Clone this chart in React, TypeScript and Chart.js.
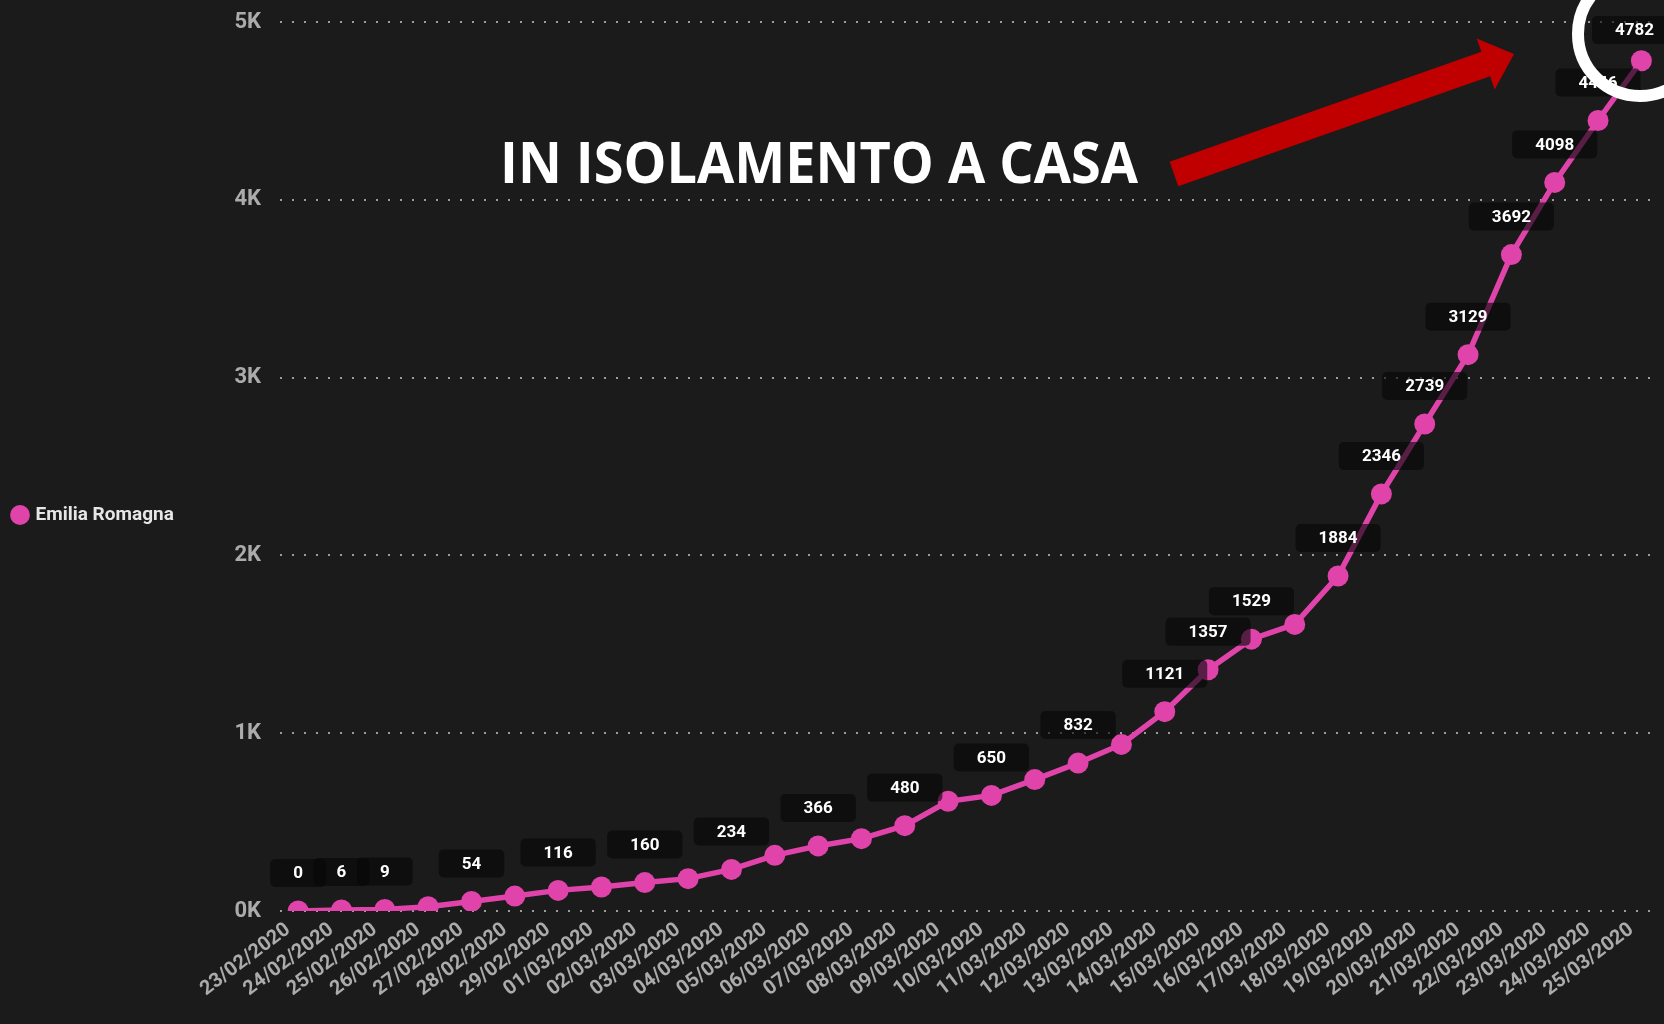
import React, { useEffect, useRef } from 'react';
import { Chart, registerables } from 'chart.js';

Chart.register(...registerables);

const dateLabels = [
  '23/02/2020', '24/02/2020', '25/02/2020', '26/02/2020', '27/02/2020', '28/02/2020', '29/02/2020',
  '01/03/2020', '02/03/2020', '03/03/2020', '04/03/2020', '05/03/2020', '06/03/2020', '07/03/2020',
  '08/03/2020', '09/03/2020', '10/03/2020', '11/03/2020', '12/03/2020', '13/03/2020', '14/03/2020',
  '15/03/2020', '16/03/2020', '17/03/2020', '18/03/2020', '19/03/2020', '20/03/2020', '21/03/2020',
  '22/03/2020', '23/03/2020', '24/03/2020', '25/03/2020',
];

const seriesName = 'Emilia Romagna';

const isolationValues = [
  0, 6, 9, 24, 54, 84, 116, 135, 160, 182, 234, 313, 366, 407, 480, 617,
  650, 739, 832, 937, 1121, 1357, 1529, 1612, 1884, 2346, 2739, 3129, 3692, 4098, 4446, 4782,
];

const labeledPoints = [0, 1, 2, 4, 6, 8, 10, 12, 14, 16, 18, 20, 21, 22, 24, 25, 26, 27, 28, 29, 30, 31];

const yTickValues = [0, 1000, 2000, 3000, 4000, 5000];

const annotationText = 'IN ISOLAMENTO A CASA';

const PINK = '#E044AA';
const BG = '#1b1b1b';
const FONT = 'Roboto, "Noto Sans", sans-serif';

export default function App() {
  const canvasRef = useRef<HTMLCanvasElement | null>(null);

  useEffect(() => {
    document.body.style.margin = '0';
    document.body.style.background = BG;
    const canvas = canvasRef.current;
    if (!canvas) return;

    const bgPlugin = {
      id: 'bg',
      beforeDraw(chart: any) {
        const ctx = chart.ctx;
        ctx.save();
        ctx.fillStyle = BG;
        ctx.fillRect(0, 0, chart.width, chart.height);
        ctx.restore();
      },
    };

    const labelPlugin = {
      id: 'pointLabels',
      afterDatasetsDraw(chart: any) {
        const ctx = chart.ctx;
        const meta = chart.getDatasetMeta(0);
        ctx.save();
        ctx.font = `bold 17px ${FONT}`;
        labeledPoints.forEach((i) => {
          const el = meta.data[i];
          if (!el) return;
          const text = String(isolationValues[i]);
          const tw = ctx.measureText(text).width;
          const w = tw + 46;
          const h = 28;
          let cx = el.x;
          let cy = el.y - 38;
          cx = Math.min(cx, chart.width + 13 - w / 2);
          cy = Math.max(cy, chart.chartArea.top + 8);
          ctx.fillStyle = 'rgba(6,6,6,0.62)';
          ctx.beginPath();
          (ctx as any).roundRect(cx - w / 2, cy - h / 2, w, h, 5);
          ctx.fill();
          ctx.fillStyle = '#ffffff';
          ctx.textAlign = 'center';
          ctx.textBaseline = 'middle';
          ctx.fillText(text, cx, cy + 1);
        });
        ctx.restore();
      },
    };

    const annotationPlugin = {
      id: 'annot',
      afterDraw(chart: any) {
        const ctx = chart.ctx;
        ctx.save();
        ctx.font = `bold 57px "Open Sans", sans-serif`;
        const tw = ctx.measureText(annotationText).width;
        const sx = 638 / tw;
        ctx.translate(500, 182.5);
        ctx.scale(sx, 1);
        ctx.fillStyle = '#ffffff';
        ctx.textAlign = 'left';
        ctx.textBaseline = 'alphabetic';
        ctx.fillText(annotationText, 0, 0);
        ctx.setTransform(1, 0, 0, 1, 0, 0);

        const T = { x: 1174, y: 174 };
        const P = { x: 1514, y: 54 };
        const dx = P.x - T.x, dy = P.y - T.y;
        const len = Math.hypot(dx, dy);
        const ux = dx / len, uy = dy / len;
        const nx = -uy, ny = ux;
        const headLen = 30, headHalf = 27, shaftHalf = 13;
        const bx = P.x - ux * headLen, by = P.y - uy * headLen;
        ctx.fillStyle = '#C00000';
        ctx.beginPath();
        ctx.moveTo(T.x + nx * shaftHalf, T.y + ny * shaftHalf);
        ctx.lineTo(bx + nx * shaftHalf, by + ny * shaftHalf);
        ctx.lineTo(bx + nx * headHalf, by + ny * headHalf);
        ctx.lineTo(P.x, P.y);
        ctx.lineTo(bx - nx * headHalf, by - ny * headHalf);
        ctx.lineTo(bx - nx * shaftHalf, by - ny * shaftHalf);
        ctx.lineTo(T.x - nx * shaftHalf, T.y - ny * shaftHalf);
        ctx.closePath();
        ctx.fill();

        ctx.strokeStyle = '#ffffff';
        ctx.lineWidth = 12;
        ctx.beginPath();
        ctx.arc(1640, 34, 62, 0, Math.PI * 2);
        ctx.stroke();
        ctx.restore();
      },
    };

    const chart = new Chart(canvas, {
      type: 'line',
      data: {
        datasets: [
          {
            label: seriesName,
            data: isolationValues.map((v, i) => ({ x: i, y: v })),
            borderColor: PINK,
            backgroundColor: PINK,
            pointBackgroundColor: PINK,
            pointBorderWidth: 0,
            pointRadius: 10.5,
            borderWidth: 5.5,
            tension: 0,
            clip: { left: 20, top: 20, right: 20, bottom: 0 } as any,
          },
        ],
      },
      options: {
        responsive: false,
        animation: false,
        layout: { padding: { top: 22, right: 0, bottom: 16, left: 0 } },
        plugins: {
          tooltip: { enabled: false },
          legend: {
            position: 'left',
            align: 'center',
            labels: {
              color: '#e6e6e6',
              font: { family: FONT, size: 19, weight: 'bold' },
              usePointStyle: true,
              pointStyle: 'circle',
              boxWidth: 12,
              boxHeight: 14,
              padding: 14,
              generateLabels: (c: any) =>
                (Chart.defaults.plugins.legend.labels as any)
                  .generateLabels(c)
                  .map((l: any) => ({ ...l, lineWidth: 0, fillStyle: PINK, strokeStyle: PINK })),
            },
          },
        },
        scales: {
          x: {
            type: 'linear',
            min: -0.419,
            max: 31.28,
            grid: { display: false, drawTicks: false },
            border: { display: false },
            afterBuildTicks: (axis: any) => {
              axis.ticks = dateLabels.map((_, i) => ({ value: i }));
            },
            afterFit: (axis: any) => {
              axis.height = 97;
              axis.paddingLeft = 0;
              axis.paddingRight = 0;
              axis.paddingTop = 0;
              axis.paddingBottom = 0;
            },
            ticks: {
              autoSkip: false,
              minRotation: 37,
              maxRotation: 37,
              padding: 7,
              labelOffset: -10,
              color: '#ababab',
              font: { family: FONT, size: 20, weight: 'bold' },
              callback: (v: any) => dateLabels[v] ?? '',
            },
          },
          y: {
            min: 0,
            max: 5000,
            afterBuildTicks: (axis: any) => {
              axis.ticks = yTickValues.map((v) => ({ value: v }));
            },
            afterFit: (axis: any) => {
              const lw = axis.chart.legend ? axis.chart.legend.width : 0;
              axis.width = 280 - lw;
              axis.paddingTop = 0;
              axis.paddingBottom = 0;
              axis.paddingLeft = 0;
              axis.paddingRight = 0;
            },
            grid: {
              color: 'rgba(200,200,200,0.75)',
              lineWidth: 2,
              drawTicks: false,
            },
            border: { display: false, dash: [2, 10] },
            ticks: {
              padding: 19,
              color: '#ababab',
              font: { family: FONT, size: 22, weight: 'bold' },
              callback: (v: any) => `${Number(v) / 1000}K`,
            },
          },
        },
      } as any,
      plugins: [bgPlugin, labelPlugin, annotationPlugin],
    });

    return () => chart.destroy();
  }, []);

  return (
    <div style={{ position: 'fixed', left: 0, top: 0, width: 1664, height: 1024, background: BG }}>
      <canvas ref={canvasRef} width={1664} height={1024} style={{ display: 'block' }} />
    </div>
  );
}
